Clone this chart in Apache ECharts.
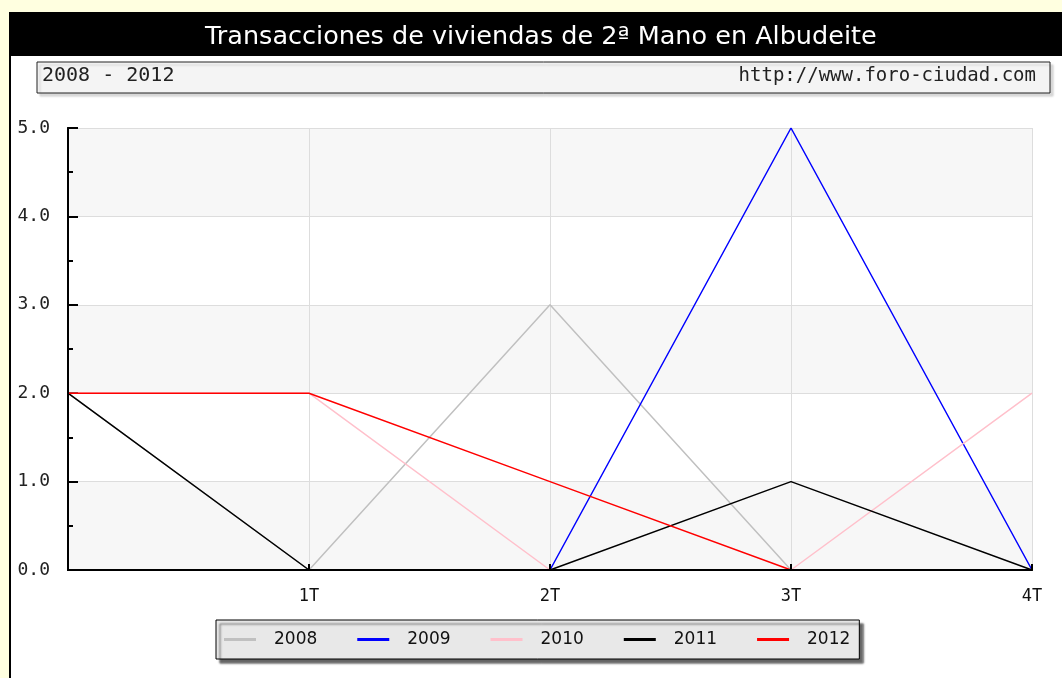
<!DOCTYPE html>
<html>
<head>
<meta charset="utf-8">
<script src="https://cdn.jsdelivr.net/npm/echarts@6/dist/echarts.min.js"></script>
<style>
  html, body { margin: 0; padding: 0; background: #ffffe0; }
  #chart { width: 1062px; height: 678px; }
</style>
</head>
<body>
<div id="chart"></div>
<script>
// datos
const categories = ["", "1T", "2T", "3T", "4T"];
const years = ["2008", "2009", "2010", "2011", "2012"];
const colors = ["#c0c0c0", "#0000ff", "#ffc0cb", "#000000", "#ff0000"];
const v2008 = [2, 0, 3, 0, 0];
const v2009 = [0, 0, 0, 5, 0];
const v2010 = [2, 2, 0, 0, 2];
const v2011 = [2, 0, 0, 1, 0];
const v2012 = [2, 2, 1, 0, null];
const yTicks = [0, 1, 2, 3, 4, 5];

const values = [v2008, v2009, v2010, v2011, v2012];

const chart = echarts.init(document.getElementById("chart"));

const option = {
  backgroundColor: "#ffffe0",
  animation: false,
  color: colors,
  graphic: [
    // marco blanco
    {
      type: "rect",
      z: -10,
      shape: { x: 10, y: 13, width: 1060, height: 670 },
      style: { fill: "#ffffff", stroke: "#000000", lineWidth: 2 },
    },
    // barra del titulo
    {
      type: "rect",
      z: -9,
      shape: { x: 9, y: 12, width: 1060, height: 44 },
      style: { fill: "#000000" },
    },
    {
      type: "text",
      z: 10,
      left: 205,
      top: 24,
      style: {
        text: "Transacciones de viviendas de 2ª Mano en Albudeite",
        fill: "#ffffff",
        font: "25.5px 'DejaVu Sans'",
      },
    },
    // caja subtitulo
    {
      type: "rect",
      z: -8,
      shape: { x: 37, y: 62, width: 1013, height: 31 },
      style: {
        fill: "#f4f4f4",
        stroke: "#222222",
        lineWidth: 1,
        shadowColor: "rgba(0,0,0,0.15)",
        shadowOffsetX: 3,
        shadowOffsetY: 3,
        shadowBlur: 2,
      },
    },
    {
      type: "text",
      z: 10,
      left: 42,
      top: 66,
      style: { text: "2008 - 2012", fill: "#222222", font: "20px 'DejaVu Sans Mono'" },
    },
    {
      type: "text",
      z: 10,
      right: 26,
      top: 67,
      style: { text: "http://www.foro-ciudad.com", fill: "#222222", font: "19px 'DejaVu Sans Mono'" },
    },
  ],
  legend: {
    data: years,
    left: 216,
    top: 620,
    icon: "rect",
    itemWidth: 32,
    itemHeight: 3,
    itemGap: 40,
    padding: [11, 9, 11, 8],
    backgroundColor: "#e8e8e8",
    borderColor: "#000000",
    borderWidth: 1,
    shadowColor: "rgba(0,0,0,0.6)",
    shadowBlur: 2,
    shadowOffsetX: 4,
    shadowOffsetY: 4,
    textStyle: {
      color: "#111111",
      fontFamily: "DejaVu Sans",
      fontSize: 17,
      padding: [0, 0, 0, 13],
    },
  },
  grid: {
    left: 68,
    right: 30,
    top: 128,
    bottom: 108,
    containLabel: false,
  },
  xAxis: [
    {
      type: "category",
      data: categories,
      boundaryGap: false,
      axisLine: { lineStyle: { color: "#000000", width: 2 } },
      axisTick: { inside: true, length: 6, lineStyle: { color: "#000000", width: 2 } },
      axisLabel: {
        margin: 18,
        color: "#111111",
        fontFamily: "DejaVu Sans Mono",
        fontSize: 17,
      },
      splitLine: { show: true, lineStyle: { color: "#dddddd", width: 1 } },
    },
    {
      // linea del eje por encima de las series
      type: "category",
      data: categories,
      boundaryGap: false,
      position: "bottom",
      offset: 0,
      z: 10,
      axisLine: { lineStyle: { color: "#000000", width: 2 } },
      axisTick: { inside: true, length: 6, lineStyle: { color: "#000000", width: 2 } },
      axisLabel: { show: false },
      splitLine: { show: false },
    },
  ],
  yAxis: [
    {
      type: "value",
      min: yTicks[0],
      max: yTicks[yTicks.length - 1],
      interval: 1,
      axisLine: { show: true, lineStyle: { color: "#000000", width: 2 } },
      axisTick: { show: true, inside: true, length: 10, lineStyle: { color: "#000000", width: 2 } },
      minorTick: { show: true, splitNumber: 2, length: 5, lineStyle: { color: "#000000", width: 2 } },
      axisLabel: {
        margin: 18,
        color: "#222222",
        fontFamily: "DejaVu Sans Mono",
        fontSize: 18,
        formatter: function (v) {
          return v.toFixed(1);
        },
      },
      splitLine: { show: true, lineStyle: { color: "#dddddd", width: 1 } },
      splitArea: { show: true, areaStyle: { color: ["#f7f7f7", "#ffffff"] } },
    },
    {
      // linea del eje y por encima de las series
      type: "value",
      min: yTicks[0],
      max: yTicks[yTicks.length - 1],
      interval: 1,
      position: "left",
      offset: 0,
      z: 10,
      axisLine: { show: true, lineStyle: { color: "#000000", width: 2 } },
      axisTick: { show: false },
      axisLabel: { show: false },
      splitLine: { show: false },
      splitArea: { show: false },
    },
  ],
  series: years.map(function (y, i) {
    return {
      name: y,
      type: "line",
      data: values[i],
      showSymbol: false,
      symbol: "none",
      lineStyle: { color: colors[i], width: 1.5 },
      itemStyle: { color: colors[i] },
    };
  }),
};

chart.setOption(option);
</script>
</body>
</html>
